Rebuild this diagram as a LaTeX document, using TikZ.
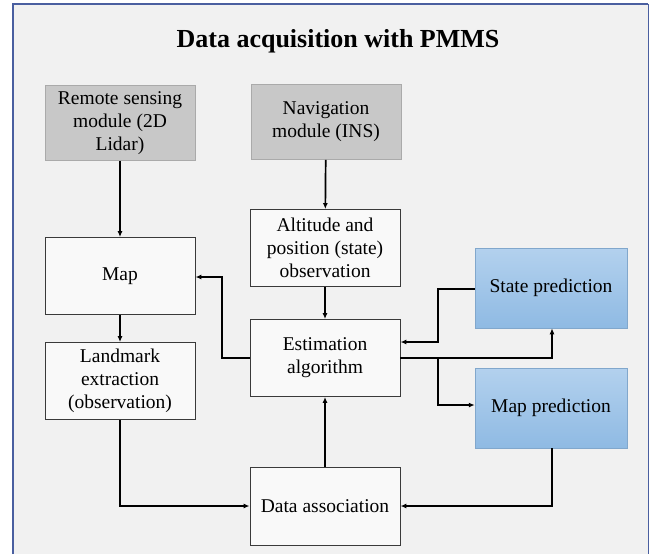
\documentclass[tikz,border=0pt]{standalone}
\usepackage{fontspec}
\setmainfont{Liberation Serif}
\usetikzlibrary{arrows.meta}
\definecolor{framebg}{HTML}{F1F1F1}
\definecolor{frameline}{HTML}{4A5FA0}
\definecolor{boxline}{HTML}{3A3A3A}
\definecolor{sensorfill}{HTML}{C8C8C8}
\definecolor{predtop}{HTML}{B3D1EE}
\definecolor{predbot}{HTML}{8FBAE3}
\tikzset{
  procbox/.style={draw=boxline, line width=0.9pt, fill=white!60!framebg,
    minimum width=150pt, minimum height=77pt, align=center,
    font=\fontsize{19.5}{23}\selectfont, inner sep=2pt},
  sensorbox/.style={procbox, draw=sensorfill!85!black, fill=sensorfill, minimum height=75pt},
  predbox/.style={procbox, draw=predbot!90!black, line width=0.5pt,
    top color=predtop, bottom color=predbot, minimum width=152pt, minimum height=80pt},
  flow/.style={line width=1.7pt, -{Latex[length=6pt,width=5pt]}}
}
\begin{document}
\begin{tikzpicture}[x=1pt,y=-1pt]
  \useasboundingbox (0,0) rectangle (655,554);
  % panel
  \fill[white] (0,0) rectangle (655,554);
  \fill[framebg] (13,4) rectangle (648,554);
  \draw[frameline, line width=1.8pt] (13,554) -- (13,4) -- (648,4);
  \draw[frameline, line width=1pt] (648,4) -- (648,554);

  \node[font=\fontsize{26}{30}\bfseries\selectfont] (title) at (338,41) {Data acquisition with PMMS};

  % sensors
  \node[sensorbox] (rs) at (120,123) {Remote sensing\\module (2D\\Lidar)};
  \node[sensorbox] (nav) at (326,122) {Navigation\\module (INS)};

  % processing
  \node[procbox] (map) at (120,276) {Map};
  \node[procbox] (lm) at (120,381) {Landmark\\extraction\\(observation)};
  \node[procbox] (alt) at (325,248) {Altitude and\\position (state)\\observation};
  \node[procbox] (est) at (325,358) {Estimation\\algorithm};
  \node[procbox, minimum height=78pt] (da) at (325,506) {Data association};

  % predictions
  \node[predbox] (sp) at (551,288) {State prediction};
  \node[predbox] (mp) at (551,408) {Map prediction};

  % branch point on the estimation output line
  \coordinate (j1) at (438,358);

  % connectors
  \draw[flow] (rs) -- (map);
  \draw[flow] (nav) -- (alt);
  \draw[flow] (alt) -- (est);
  \draw[flow] (map) -- (lm);
  \draw[flow] (da) -- (est);
  \draw[flow] (est.west) -- (222,358) |- (map.east |- 0,277);
  \draw[flow] (sp.west |- 0,289) -- (438,289) |- (est.east |- 0,342);
  \draw[flow] (est.east) -- (552,358) -- (sp.south -| 552,0);
  \draw[flow] (j1) |- (mp.west |- 0,405);
  \draw[flow] (lm.south) |- (da.west);
  \draw[flow] (mp.south -| 552,0) |- (da.east);
\end{tikzpicture}
\end{document}
